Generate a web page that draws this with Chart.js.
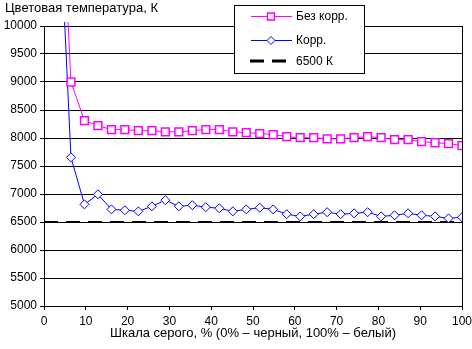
<!DOCTYPE html>
<html>
<head>
<meta charset="utf-8">
<script src="https://cdn.jsdelivr.net/npm/chart.js@4/dist/chart.umd.min.js"></script>
<style>
    html, body { margin: 0; padding: 0; background: #fff; }
    #wrap { position: relative; width: 472px; height: 349px; }
</style>
</head>
<body>
<div id="wrap"><canvas id="tempChart" width="472" height="349"></canvas></div>
<script>
// Grey level, % (32 steps)
const grayLevels = [0, 3.23, 6.45, 9.68, 12.9, 16.13, 19.35, 22.58, 25.81, 29.03, 32.26, 35.48,
    38.71, 41.94, 45.16, 48.39, 51.61, 54.84, 58.06, 61.29, 64.52, 67.74, 70.97, 74.19,
    77.42, 80.65, 83.87, 87.1, 90.32, 93.55, 96.77, 100];

// Colour temperature, K
const uncorrectedTemp = [null, 14000, 9000, 8310, 8220, 8150, 8150, 8130, 8130, 8110, 8110, 8130,
    8150, 8150, 8110, 8095, 8080, 8060, 8025, 8005, 8005, 7985, 7985, 8005,
    8025, 8005, 7970, 7970, 7935, 7915, 7900, 7865];
const correctedTemp = [null, 12800, 7655, 6815, 6995, 6725, 6710, 6690, 6780, 6890, 6780, 6800,
    6765, 6745, 6690, 6725, 6755, 6725, 6640, 6600, 6640, 6675, 6640, 6655,
    6675, 6600, 6620, 6655, 6620, 6600, 6565, 6585];
const referenceTemp = 6500;

const seriesNames = ['Без корр.', 'Корр.', '6500 К'];
const xTitle = 'Шкала серого, % (0% – черный, 100% – белый)';
const yTitle = 'Цветовая температура, К';

const FONT = '"Liberation Sans", Arial, sans-serif';

function toPoints(values) {
    return grayLevels.map((x, i) => ({ x, y: values[i] }));
}

// Legend box inside the plot + top-left axis caption
const legendBox = {
    id: 'legendBox',
    afterDraw(chart) {
        const ctx = chart.ctx;
        ctx.save();
        ctx.font = '13px ' + FONT;
        ctx.fillStyle = '#000';
        ctx.textAlign = 'left';
        ctx.textBaseline = 'middle';
        ctx.fillText(yTitle, 5, 8);

        const bx = 234.5, by = 5.5, bw = 130, bh = 68;
        ctx.fillStyle = '#fff';
        ctx.fillRect(bx, by, bw, bh);
        ctx.strokeStyle = '#000';
        ctx.lineWidth = 1;
        ctx.strokeRect(bx, by, bw, bh);

        ctx.font = '12px ' + FONT;
        const rows = [16, 40, 61];
        const x0 = 251, x1 = 292, xm = 271;
        chart.data.datasets.forEach((ds, i) => {
            const y = rows[i];
            ctx.save();
            ctx.strokeStyle = ds.borderColor;
            if (i === 2) {
                ctx.lineWidth = 3;
                ctx.beginPath();
                ctx.moveTo(250, y); ctx.lineTo(264, y);
                ctx.moveTo(272, y); ctx.lineTo(286, y);
                ctx.stroke();
            } else {
                ctx.lineWidth = 1;
                ctx.beginPath();
                ctx.moveTo(x0, y + 0.5); ctx.lineTo(x1, y + 0.5);
                ctx.stroke();
                ctx.fillStyle = '#fff';
                ctx.lineWidth = ds.pointBorderWidth;
                ctx.beginPath();
                if (i === 0) {
                    ctx.rect(xm - 3.5, y - 3, 7, 7);
                } else {
                    ctx.moveTo(xm - 4, y + 0.5); ctx.lineTo(xm, y - 3.5);
                    ctx.lineTo(xm + 4, y + 0.5); ctx.lineTo(xm, y + 4.5);
                    ctx.closePath();
                }
                ctx.fill();
                ctx.stroke();
            }
            ctx.restore();
            ctx.fillStyle = '#000';
            ctx.fillText(ds.label, 296, y + 1);
        });
        ctx.restore();
    }
};

new Chart(document.getElementById('tempChart'), {
    type: 'line',
    data: {
        datasets: [{
            label: seriesNames[0],
            data: toPoints(uncorrectedTemp),
            borderColor: '#ff00ff', borderWidth: 1,
            pointStyle: 'rect', pointRadius: 5.5, pointBorderWidth: 1.5,
            pointBackgroundColor: '#fff', pointBorderColor: '#ff00ff',
            clip: { left: 0, top: 4, right: 0, bottom: 0 }
        }, {
            label: seriesNames[1],
            data: toPoints(correctedTemp),
            borderColor: '#0000ff', borderWidth: 1,
            pointStyle: 'rectRot', pointRadius: 4.5, pointBorderWidth: 1,
            pointBackgroundColor: '#fff', pointBorderColor: '#0000ff',
            clip: { left: 0, top: 4, right: 0, bottom: 0 }
        }, {
            label: seriesNames[2],
            data: [{ x: grayLevels[0], y: referenceTemp }, { x: grayLevels[grayLevels.length - 1], y: referenceTemp }],
            borderColor: '#000', borderWidth: 2, borderDash: [14, 8],
            pointRadius: 0
        }]
    },
    options: {
        responsive: false,
        animation: false,
        events: [],
        layout: { padding: { top: 26, right: 10, left: 0, bottom: 0 } },
        plugins: { legend: { display: false }, tooltip: { enabled: false } },
        scales: {
            x: {
                type: 'linear', min: 0, max: 100,
                ticks: { stepSize: 10, color: '#000', font: { size: 12, family: FONT }, padding: 4, maxRotation: 0 },
                grid: {
                    color: c => (c.tick && c.tick.value === 100) ? '#000' : 'rgba(0,0,0,0)',
                    tickColor: '#000', tickLength: 4, lineWidth: 1
                },
                border: { color: '#000', width: 1 },
                title: { display: true, text: xTitle, color: '#000', font: { size: 13, family: FONT }, padding: { top: 0, bottom: 8 } },
                afterFit: s => { s.height = 43; s.paddingRight = 0; s.paddingLeft = 0; }
            },
            y: {
                min: 5000, max: 10000,
                ticks: { stepSize: 500, color: '#000', font: { size: 12, family: FONT }, padding: 3, callback: v => String(v) },
                grid: { color: '#000', tickColor: '#000', tickLength: 4, lineWidth: 1 },
                border: { color: '#000', width: 1 },
                afterFit: s => { s.width = 44; }
            }
        }
    },
    plugins: [legendBox]
});
</script>
</body>
</html>
